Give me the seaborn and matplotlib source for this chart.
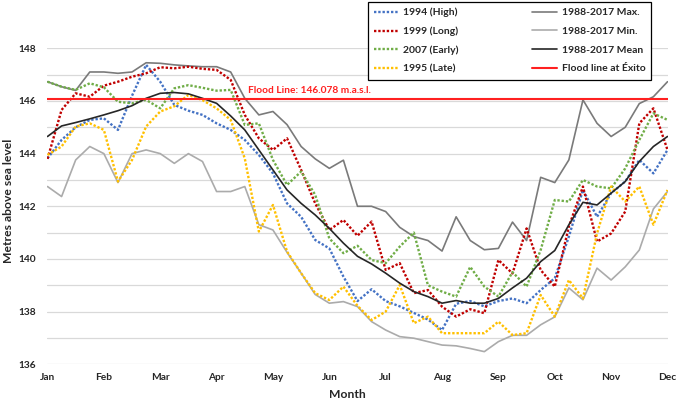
import numpy as np
import pandas as pd
import seaborn as sns
import matplotlib
matplotlib.use('Agg')
import matplotlib.pyplot as plt

# month position (0 = 1 Jan, 11 = 1 Dec), sampled about weekly
months = [0.0, 0.25, 0.5, 0.75, 1.0, 1.25, 1.5, 1.75, 2.0, 2.25, 2.5, 2.75,
          3.0, 3.25, 3.5, 3.75, 4.0, 4.25, 4.5, 4.75, 5.0, 5.25, 5.5,
          5.75, 6.0, 6.25, 6.5, 6.75, 7.0, 7.25, 7.5, 7.75, 8.0, 8.25,
          8.5, 8.75, 9.0, 9.25, 9.5, 9.75, 10.0, 10.25, 10.5, 10.75, 11.0]
month_labels = ['Jan', 'Feb', 'Mar', 'Apr', 'May', 'Jun',
                'Jul', 'Aug', 'Sep', 'Oct', 'Nov', 'Dec']

lvl_max = [146.73, 146.54, 146.4, 147.1, 147.1, 147.05, 147.1, 147.45, 147.43, 147.37, 147.33, 147.3,
           147.3, 147.1, 146.1, 145.47, 145.6, 145.1, 144.27, 143.8, 143.44, 143.75, 142.0,
           142.0, 141.8, 141.2, 140.85, 140.7, 140.3, 141.6, 140.7, 140.35, 140.4, 141.4,
           140.7, 143.1, 142.9, 143.76, 146.04, 145.15, 144.65, 145.0, 145.9, 146.16, 146.73]
lvl_min = [142.75, 142.37, 143.76, 144.27, 144.0, 142.9, 144.0, 144.14, 144.0, 143.63, 144.0, 143.7,
           142.56, 142.56, 142.75, 141.3, 141.1, 140.25, 139.46, 138.65, 138.32, 138.38, 138.19,
           137.62, 137.3, 137.05, 136.99, 136.86, 136.73, 136.7, 136.6, 136.48, 136.86, 137.1,
           137.1, 137.5, 137.8, 138.9, 138.45, 139.65, 139.2, 139.7, 140.34, 141.9, 142.56]
lvl_mean = [144.65, 145.05, 145.18, 145.32, 145.47, 145.63, 145.82, 146.1, 146.29, 146.32, 146.27, 146.1,
            145.91, 145.43, 144.9, 144.14, 143.38, 142.62, 142.11, 141.67, 141.16, 140.6, 140.1,
            139.81, 139.46, 139.08, 138.76, 138.57, 138.32, 138.42, 138.32, 138.32, 138.5, 138.9,
            139.27, 139.9, 140.32, 141.3, 142.15, 142.05, 142.5, 142.94, 143.7, 144.27, 144.65]
y1994 = [143.82, 144.52, 145.0, 145.28, 145.34, 144.9, 146.2, 147.37, 146.73, 145.85, 145.63, 145.47,
         145.15, 144.9, 144.52, 143.95, 143.25, 142.11, 141.6, 140.72, 140.4, 139.33, 138.4,
         138.85, 138.4, 138.2, 137.95, 137.7, 137.3, 138.3, 138.4, 138.2, 138.4, 138.5,
         138.32, 138.82, 139.27, 140.85, 142.62, 141.6, 142.5, 142.94, 143.76, 143.25, 144.14]
y1999 = [143.8, 145.66, 146.29, 146.16, 146.58, 146.73, 146.92, 147.05, 147.28, 147.24, 147.3, 147.22,
         147.18, 146.8, 145.47, 144.58, 144.14, 144.58, 143.38, 142.11, 141.1, 141.48, 140.88,
         141.42, 139.58, 139.84, 138.7, 138.82, 138.19, 137.81, 138.09, 137.94, 139.96, 139.45,
         141.16, 139.58, 138.95, 141.23, 142.75, 140.66, 140.97, 141.8, 145.15, 145.72, 144.14]
y2007 = [146.73, 146.54, 146.42, 146.67, 146.52, 145.97, 145.91, 146.04, 145.72, 146.48, 146.6, 146.5,
         146.39, 146.42, 145.09, 145.15, 143.76, 142.81, 143.32, 142.43, 140.78, 140.22, 140.5,
         139.96, 139.84, 140.47, 141.0, 139.0, 138.76, 138.57, 139.7, 138.95, 138.57, 139.5,
         138.95, 140.34, 142.24, 142.18, 143.0, 142.75, 142.68, 143.44, 144.52, 145.53, 145.28]
y1995 = [143.95, 144.27, 145.03, 145.15, 144.9, 142.94, 143.76, 145.03, 145.6, 145.8, 146.23, 146.03,
         145.72, 145.28, 143.82, 141.04, 142.05, 140.28, 139.46, 138.7, 138.44, 138.95, 138.22,
         137.68, 138.0, 139.01, 137.56, 137.81, 137.18, 137.18, 137.18, 137.18, 137.62, 137.11,
         137.18, 138.63, 137.81, 139.2, 138.5, 140.97, 142.75, 142.18, 142.75, 141.3, 142.62]
flood_level = 146.078

df = pd.DataFrame({'month': months, 'max': lvl_max, 'min': lvl_min, 'mean': lvl_mean,
                   '1994': y1994, '1999': y1999, '2007': y2007, '1995': y1995})

sns.set_theme(style='white')
plt.rcParams['font.family'] = ['Lato', 'DejaVu Sans']
plt.rcParams['font.weight'] = 'bold'

fig = plt.figure(figsize=(6.77, 4.0), dpi=100)
ax = fig.add_axes([47.5 / 677, 0.0893, 620 / 677, 0.79])

dot = (0, (1, 0.8))
sns.lineplot(data=df, x='month', y='max', ax=ax, color='#7a7a7a', lw=1.2, label='1988-2017 Max.', zorder=2)
sns.lineplot(data=df, x='month', y='min', ax=ax, color='#ababab', lw=1.2, label='1988-2017 Min.', zorder=2)
sns.lineplot(data=df, x='month', y='1994', ax=ax, color='#4472c4', lw=1.7, ls=dot, label='1994 (High)', zorder=3)
sns.lineplot(data=df, x='month', y='1999', ax=ax, color='#c00000', lw=1.7, ls=dot, label='1999 (Long)', zorder=3)
sns.lineplot(data=df, x='month', y='2007', ax=ax, color='#70ad47', lw=1.7, ls=dot, label='2007 (Early)', zorder=3)
sns.lineplot(data=df, x='month', y='1995', ax=ax, color='#ffc000', lw=1.7, ls=dot, label='1995 (Late)', zorder=3)
sns.lineplot(data=df, x='month', y='mean', ax=ax, color='#262626', lw=1.2, label='1988-2017 Mean', zorder=4)
ax.axhline(flood_level, color='#ff2020', lw=1.5, zorder=5, label='Flood line at Éxito')

ax.annotate('Flood Line: 146.078 m.a.s.l.', xy=(4.65, flood_level), xytext=(0, 2.5),
            textcoords='offset points', ha='center', va='bottom',
            color='#ff2020', fontsize=7.3, fontweight='bold')

ax.set_xlim(0, 11)
ax.set_ylim(136, 148)
ax.set_xticks(range(12))
ax.set_xticklabels(month_labels)
ax.set_yticks(range(136, 149, 2))
ax.set_yticks(range(136, 149), minor=True)
ax.grid(axis='y', which='both', color='#d9d9d9', lw=0.9, zorder=0)
ax.grid(axis='x', visible=False)
ax.tick_params(axis='both', which='both', length=0, labelsize=7.3)
ax.tick_params(axis='y', pad=8)
ax.tick_params(axis='x', pad=6)
for s in ax.spines.values():
    s.set_visible(False)
ax.set_xlabel('')
ax.set_ylabel('')

fig.text(8.5 / 677, 1 - 201 / 400, 'Metres above sea level', rotation=90, ha='center', va='center',
         fontsize=8.7, fontweight='bold')
fig.text(347 / 677, 1 - 394 / 400, 'Month', ha='center', va='center', fontsize=8.7, fontweight='bold')

handles, labels = ax.get_legend_handles_labels()
order = ['1994 (High)', '1999 (Long)', '2007 (Early)', '1995 (Late)',
         '1988-2017 Max.', '1988-2017 Min.', '1988-2017 Mean', 'Flood line at Éxito']
hmap = dict(zip(labels, handles))
ax.get_legend().remove()
leg = fig.legend([hmap[k] for k in order], order, ncol=2, loc='upper left',
                 bbox_to_anchor=(368 / 677, 1 - 2 / 400, 283 / 677, 0.0), mode='expand',
                 prop={'size': 7.5, 'weight': 'bold'}, frameon=True, fancybox=False,
                 framealpha=1, edgecolor='black', handlelength=2.4, handletextpad=0.4,
                 labelspacing=0.9, borderpad=0.55, borderaxespad=0)
leg.get_frame().set_linewidth(0.9)

fig.savefig('out.png', dpi=100)
